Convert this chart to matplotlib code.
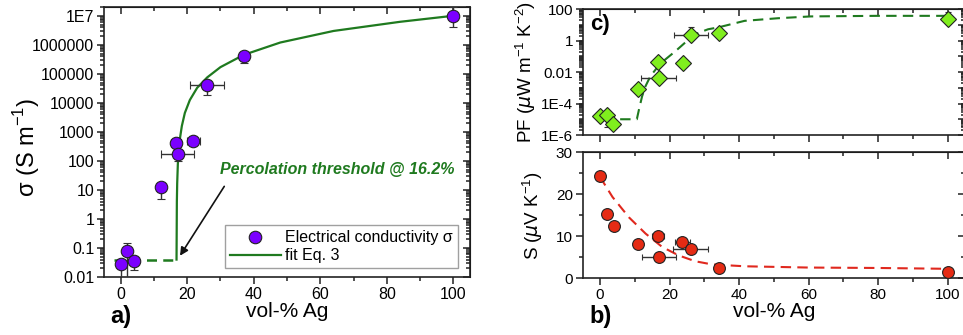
import numpy as np
import matplotlib.pyplot as plt
from matplotlib.lines import Line2D
from matplotlib.ticker import MultipleLocator, LogLocator, NullFormatter

plt.rcParams['font.family'] = ['Liberation Sans', 'DejaVu Sans']
plt.rcParams['mathtext.fontset'] = 'custom'
plt.rcParams['mathtext.rm'] = 'Liberation Sans'

#%% data
# a) electrical conductivity
sig_x = [0, 2, 4, 12, 16.6, 17.2, 21.8, 26, 37.2, 100]
sig_y = [0.028, 0.08, 0.035, 12.5, 400, 180, 500, 40000, 420000, 1.0e7]
sig_xerr = [0.8, 1.0, 1.0, 0.8, 1.5, 5, 2, 5, 0.5, 0.5]
sig_ylo = [0.025, 0.075, 0.018, 7.5, 100, 80, 100, 22000, 190000, 6e6]
sig_yhi = [0.01, 0.07, 0.01, 4, 100, 50, 100, 10000, 100000, 1e7]
# fit Eq. 3 (flat dashed part + curve)
fit_flat_x = [-2, 16.8]
fit_flat_y = [0.04, 0.04]
fit_x = [16.8, 16.9, 17.0, 17.2, 17.6, 18.4, 19.3, 20.8, 23.0, 26.0, 30.0, 37.0, 48.0, 64.0, 84.0, 100.0]
fit_y = [0.04, 4, 17, 80, 400, 1600, 4500, 1.25e4, 3.3e4, 7.5e4, 1.7e5, 4.5e5, 1.2e6, 3.0e6, 6.2e6, 1.0e7]
sig_ticks = [0.01, 0.1, 1, 10, 100, 1000, 1e4, 1e5, 1e6, 1e7]
sig_labels = ['0.01', '0.1', '1', '10', '100', '1000', '10000', '100000', '1000000', '1E7']

# c) power factor
pf_x = [0, 2, 3.8, 10.8, 16.7, 16.9, 23.8, 26.2, 34.3, 100]
pf_y = [1.5e-5, 1.9e-5, 5e-6, 8.5e-4, 0.043, 0.0043, 0.039, 2.2, 2.8, 23]
pf_xerr = [0.8, 1.0, 1.0, 0.8, 1.5, 5, 0.5, 5, 1.0, 0.5]
pf_ylo = [4e-6, 1.6e-5, 1.5e-6, 3e-4, 0.012, 0.0015, 0.01, 0.6, 0.8, 12]
pf_yhi = [4e-6, 8e-6, 1.5e-6, 3e-4, 0.012, 0.0015, 0.01, 5.5, 0.8, 45]
pfit_x = [1, 10.6, 11.2, 12.1, 13.1, 14.5, 16.4, 18.8, 21.7, 24.5, 27.3, 31.1, 34.0, 41.6, 51.1, 60.6, 79.6, 100]
pfit_y = [1e-5, 1e-5, 4e-5, 2.8e-4, 1.26e-3, 5.4e-3, 0.0186, 0.063, 0.21, 0.74, 2.5, 5.2, 6.8, 17.8, 26, 34, 37, 37]
pf_ticks = [1e-6, 1e-4, 0.01, 1, 100]
pf_labels = ['1E-6', '1E-4', '0.01', '1', '100']

# b) Seebeck coefficient
s_x = [0, 2, 4, 10.8, 16.6, 17.0, 23.7, 26.1, 34.3, 100]
s_y = [24.4, 15.3, 12.5, 8.2, 10.0, 4.9, 8.5, 7.0, 2.4, 1.4]
s_xerr = [0.5, 1.0, 1.0, 0.8, 1.7, 5, 2.2, 5, 0.8, 0.5]
s_yerr = [0.5, 0.8, 0.8, 0.8, 0.8, 0.8, 0.5, 0.6, 0.8, 0.8]
sfit_x = [0, 1.2, 3.6, 8.4, 13.1, 17.9, 22.6, 27.4, 32.2, 41.7, 60, 80, 100]
sfit_y = [24.2, 22.5, 19.3, 14.4, 10.6, 7.4, 5.4, 4.0, 3.25, 2.8, 2.5, 2.4, 2.2]

#%% styling helper: Origin style ticks, all x ticks point down, all y ticks point left
def style_axes(ax, xlabels=True):
    for s in ax.spines.values():
        s.set_linewidth(1.2)
        s.set_color('#222222')
    ax.set_xlim(-5, 105)
    ax.xaxis.set_major_locator(MultipleLocator(20))
    ax.xaxis.set_minor_locator(MultipleLocator(10))
    ax.tick_params(which='both', direction='out', width=1.1, color='#222222')
    ax.tick_params(which='major', length=5)
    ax.tick_params(which='minor', length=3)
    if not xlabels:
        ax.tick_params(axis='x', labelbottom=False)
    top = ax.secondary_xaxis('top')
    top.xaxis.set_major_locator(MultipleLocator(20))
    top.xaxis.set_minor_locator(MultipleLocator(10))
    top.tick_params(which='both', direction='in', labeltop=False, width=1.1, color='#222222')
    top.tick_params(which='major', length=5)
    top.tick_params(which='minor', length=3)
    return top

def right_ticks(ax, major, minor):
    r = ax.secondary_yaxis('right')
    r.yaxis.set_major_locator(major)
    r.yaxis.set_minor_locator(minor)
    r.yaxis.set_minor_formatter(NullFormatter())
    r.tick_params(which='both', direction='in', labelright=False, width=1.1, color='#222222')
    r.tick_params(which='major', length=5)
    r.tick_params(which='minor', length=3)

fig = plt.figure(figsize=(9.63, 3.35), dpi=100)

#%% a) sigma
ax1 = fig.add_axes([0.108, 0.173, 0.380, 0.806])
ax1.set_yscale('log')
ax1.plot(fit_flat_x, fit_flat_y, color='#1f7a1f', lw=1.8, ls=(0, (4, 2.5)), zorder=2)
ax1.plot(fit_x, fit_y, color='#1f7a1f', lw=1.6, zorder=2)
ax1.errorbar(sig_x, sig_y, xerr=sig_xerr, yerr=[sig_ylo, sig_yhi], fmt='o', ms=9,
             mfc='#7b00ff', mec='#222222', mew=0.8, ecolor='#333333', elinewidth=1,
             capsize=3, zorder=3)
ax1.set_ylim(0.01, 2e7)
ax1.set_yticks(sig_ticks, sig_labels)
ax1.yaxis.set_minor_locator(LogLocator(base=10, subs=np.arange(2, 10), numticks=100))
ax1.yaxis.set_minor_formatter(NullFormatter())
style_axes(ax1)
right_ticks(ax1, LogLocator(base=10, numticks=100),
            LogLocator(base=10, subs=np.arange(2, 10), numticks=100))
ax1.tick_params(labelsize=11.5, pad=2)
ax1.set_xlabel('vol-% Ag', fontsize=15, labelpad=0)
ax1.set_ylabel(r'σ (S m$^{-1}$)', fontsize=17)
ax1.yaxis.set_label_coords(-0.17, 0.48)
ax1.annotate('', xy=(17.4, 0.045), xytext=(31.6, 16),
             arrowprops=dict(arrowstyle='-|>', color='#111111', lw=1.2, mutation_scale=12))
ax1.text(30, 50, 'Percolation threshold @ 16.2%', color='#1f7a1f', fontsize=11.5,
         fontweight='bold', fontstyle='italic', va='center', ha='left')
handles = [Line2D([], [], ls='none', marker='o', ms=9, mfc='#7b00ff', mec='#222222', mew=0.8),
           Line2D([], [], color='#1f7a1f', lw=1.6)]
leg = ax1.legend(handles, ['Electrical conductivity σ', 'fit Eq. 3'], loc='lower right',
                 bbox_to_anchor=(0.967, 0.033), fontsize=11.5, fancybox=False,
                 edgecolor='#888888', handlelength=3.2, borderpad=0.3, labelspacing=0.2,
                 handletextpad=0.3, borderaxespad=0)
leg.get_frame().set_linewidth(1.0)
fig.text(0.115, 0.035, 'a)', fontsize=17, fontweight='bold')

#%% c) power factor
ax2 = fig.add_axes([0.605, 0.597, 0.397, 0.376])
ax2.set_yscale('log')
ax2.plot(pfit_x, pfit_y, color='#1f7a1f', lw=1.5, ls=(0, (5, 3)), zorder=2)
ax2.errorbar(pf_x, pf_y, xerr=pf_xerr, yerr=[pf_ylo, pf_yhi], fmt='D', ms=8,
             mfc='#80ee1e', mec='#222222', mew=0.8, ecolor='#333333', elinewidth=1,
             capsize=2.5, zorder=3)
ax2.set_ylim(1e-6, 100)
ax2.set_yticks(pf_ticks, pf_labels)
ax2.yaxis.set_minor_locator(LogLocator(base=10, subs=np.arange(1, 10), numticks=100))
ax2.yaxis.set_minor_formatter(NullFormatter())
style_axes(ax2, xlabels=False)
right_ticks(ax2, LogLocator(base=10, numticks=100),
            LogLocator(base=10, subs=np.arange(1, 10), numticks=100))
ax2.tick_params(labelsize=11, pad=2)
ax2.set_ylabel(r'PF ($\mu$W m$^{-1}$ K$^{-2}$)', fontsize=13.5, labelpad=2)
ax2.text(0.02, 0.88, 'c)', transform=ax2.transAxes, fontsize=16, fontweight='bold',
         va='center')

#%% b) Seebeck
ax3 = fig.add_axes([0.605, 0.170, 0.397, 0.376])
ax3.plot(sfit_x, sfit_y, color='#e0281e', lw=1.5, ls=(0, (5, 3)), zorder=2)
ax3.errorbar(s_x, s_y, xerr=s_xerr, yerr=s_yerr, fmt='o', ms=8.5,
             mfc='#e52b14', mec='#222222', mew=0.8, ecolor='#333333', elinewidth=1,
             capsize=2.5, zorder=3)
ax3.set_ylim(0, 30)
ax3.yaxis.set_major_locator(MultipleLocator(10))
ax3.yaxis.set_minor_locator(MultipleLocator(5))
style_axes(ax3)
right_ticks(ax3, MultipleLocator(10), MultipleLocator(5))
ax3.tick_params(labelsize=11, pad=2)
ax3.set_xlabel('vol-% Ag', fontsize=15, labelpad=0)
ax3.set_ylabel(r'S ($\mu$V K$^{-1}$)', fontsize=13.5, labelpad=8)
fig.text(0.612, 0.035, 'b)', fontsize=17, fontweight='bold')

fig.savefig('out.png', dpi=100)
